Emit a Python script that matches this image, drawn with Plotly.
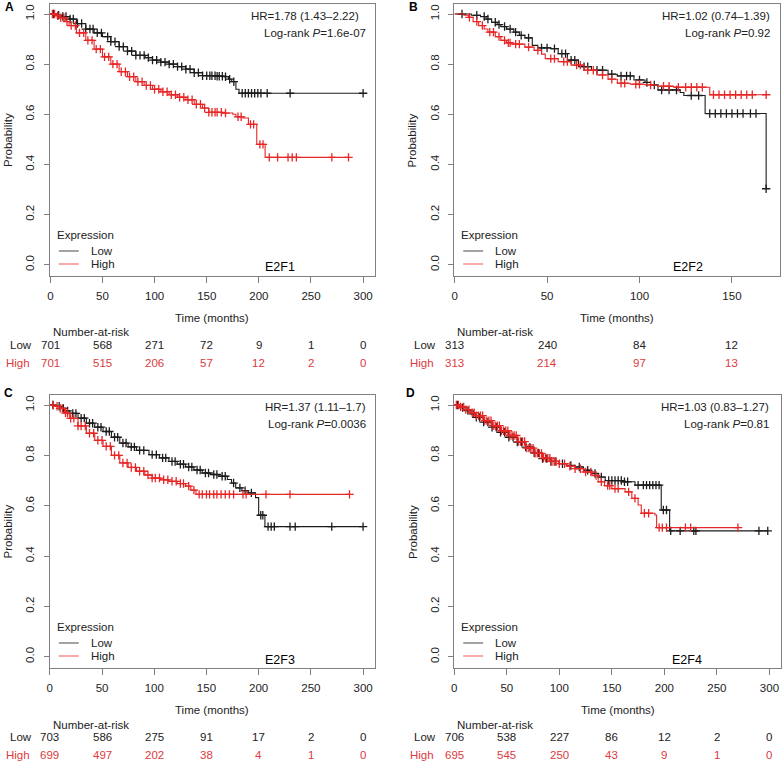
import numpy as np
import plotly.graph_objects as go

W, H = 782, 761
FONT = "Liberation Sans, Arial, sans-serif"
BLACK = "#1c1c1c"
RED = "#e82626"
RED_TXT = "#dc3a3e"
BOX = "#808080"
TXT = "#222222"
FS = 11.5

# ---- A: E2F1
a_low_t = [0, 6, 12, 18, 25, 34, 42, 50, 58, 66, 74, 82, 91, 98, 106, 114, 122, 130, 138, 146, 160, 167, 171, 174, 178, 181, 300]
a_low_s = [1.0, 0.995, 0.99, 0.98, 0.962, 0.94, 0.925, 0.91, 0.89, 0.87, 0.852, 0.835, 0.826, 0.816, 0.808, 0.80, 0.79, 0.78, 0.766, 0.754, 0.752, 0.75, 0.74, 0.73, 0.70, 0.684, 0.684]
a_low_cens = [3, 8, 12, 15, 19, 22, 26, 30, 34, 38, 41, 45, 49, 55, 58, 62, 66, 70, 74, 78, 82, 86, 90, 94, 98, 102, 106, 110,
              114, 118, 122, 126, 130, 134, 138, 142, 146, 150, 153, 155, 158, 160, 162, 165, 168, 172, 176, 184, 187, 190,
              193, 196, 199, 202, 208, 230, 300]
a_high_t = [0, 5, 9, 14, 18, 25, 34, 42, 50, 58, 66, 74, 82, 90, 98, 106, 114, 122, 130, 138, 146, 152, 165, 175, 178, 185, 190, 198, 206, 286]
a_high_s = [1.0, 0.993, 0.985, 0.97, 0.954, 0.925, 0.895, 0.86, 0.829, 0.80, 0.77, 0.75, 0.73, 0.715, 0.70, 0.69, 0.678, 0.668, 0.658, 0.64,
            0.625, 0.608, 0.605, 0.60, 0.59, 0.585, 0.56, 0.48, 0.428, 0.428]
a_high_cens = [2, 4, 7, 10, 13, 16, 20, 24, 28, 32, 36, 40, 44, 48, 52, 56, 60, 64, 68, 72, 76, 80, 84, 88, 92, 96, 100, 104,
               108, 112, 116, 120, 124, 128, 132, 136, 140, 144, 148, 152, 155, 158, 160, 164, 168, 180, 183, 192, 195, 201,
               204, 210, 218, 228, 232, 236, 270, 286]
a_risk_low = [701, 568, 271, 72, 9, 1, 0]
a_risk_high = [701, 515, 206, 57, 12, 2, 0]

# ---- B: E2F2
b_low_t = [0, 9, 14, 17, 20, 23, 25, 28, 32, 35, 38, 42, 45, 52, 56, 61, 67, 74, 83, 88, 97, 103, 106, 110, 122, 124, 135.5, 168.5]
b_low_s = [1.0, 0.995, 0.99, 0.98, 0.967, 0.958, 0.95, 0.94, 0.928, 0.915, 0.905, 0.875, 0.865, 0.862, 0.842, 0.816, 0.79, 0.776,
           0.76, 0.753, 0.737, 0.727, 0.717, 0.697, 0.687, 0.675, 0.603, 0.303]
b_low_cens = [4, 12, 16, 18, 22, 24, 27, 30, 33, 36, 40, 47, 50, 54, 58, 60, 63, 65, 70, 72, 77, 80, 85, 90, 93, 95, 100, 104,
              108, 112, 116, 120, 128, 132, 138, 141, 144, 147, 150, 153, 156, 160, 163, 168.5]
b_high_t = [0, 5, 7.5, 10, 13, 16, 18, 22, 25, 28, 31, 38, 43, 47, 49, 56, 63, 70, 77, 83, 88, 95, 103, 110, 118.5, 138, 168.5]
b_high_s = [1.0, 0.995, 0.987, 0.97, 0.954, 0.94, 0.928, 0.91, 0.895, 0.885, 0.88, 0.868, 0.855, 0.84, 0.822, 0.81, 0.796, 0.776,
            0.757, 0.74, 0.724, 0.72, 0.717, 0.712, 0.708, 0.678, 0.678]
b_high_cens = [8, 12, 15, 19, 21, 24, 27, 29, 30, 33, 35, 40, 45, 52, 54, 59, 61, 66, 68, 72, 75, 80, 85, 90, 92, 98, 100, 106,
               113, 116, 121, 125, 128, 131, 134, 140, 143, 146, 149, 152, 155, 158, 161, 168.5]
b_risk_low = [313, 240, 84, 12]
b_risk_high = [313, 214, 97, 13]

# ---- C: E2F3
c_low_t = [0, 6, 11, 15, 19, 27, 35, 43, 51, 59, 67, 75, 83, 95, 105, 114, 122, 130, 138, 146, 154, 162, 170, 174, 178, 184, 190, 197, 200, 206, 300]
c_low_s = [1.0, 0.995, 0.987, 0.977, 0.967, 0.948, 0.928, 0.912, 0.895, 0.872, 0.849, 0.834, 0.82, 0.803, 0.79, 0.776, 0.765, 0.754,
           0.742, 0.73, 0.724, 0.717, 0.704, 0.69, 0.671, 0.66, 0.651, 0.632, 0.562, 0.517, 0.517]
c_low_cens = [3, 9, 13, 17, 22, 25, 30, 33, 38, 41, 46, 49, 54, 57, 62, 65, 70, 73, 78, 81, 86, 90, 98, 102, 108, 111, 117, 120,
              125, 128, 133, 136, 141, 144, 149, 152, 157, 160, 165, 168, 176, 182, 187, 193, 202, 204, 209, 212, 215, 230, 235, 270, 300]
c_high_t = [0, 5, 9.5, 14, 19, 27, 35, 43, 51, 59, 67, 75, 83, 91, 98, 106, 114, 122, 130, 135, 140, 287]
c_high_s = [1.0, 0.995, 0.987, 0.968, 0.947, 0.917, 0.888, 0.86, 0.836, 0.80, 0.77, 0.752, 0.737, 0.722, 0.71, 0.703, 0.697, 0.688,
            0.678, 0.662, 0.645, 0.645]
c_high_cens = [3, 7, 10, 12, 15, 17, 20, 23, 27, 30, 34, 38, 42, 46, 50, 54, 58, 62, 66, 70, 74, 78, 82, 86, 90, 94, 98, 101,
               105, 109, 113, 117, 121, 125, 128, 133, 138, 143, 146, 150, 153, 157, 160, 164, 168, 172, 176, 185, 188, 207,
               230, 287]
c_risk_low = [703, 586, 275, 91, 17, 2, 0]
c_risk_high = [699, 497, 202, 38, 4, 1, 0]

# ---- D: E2F4
d_low_t = [0, 5, 11, 16, 20.5, 28, 36, 44, 52, 60, 68, 76, 84, 92, 99.5, 107, 115, 123, 131, 137, 143.7, 160, 172, 197, 205, 298.4]
d_low_s = [1.0, 0.99, 0.978, 0.965, 0.951, 0.932, 0.912, 0.892, 0.872, 0.853, 0.833, 0.81, 0.787, 0.776, 0.767, 0.76, 0.754, 0.741,
           0.728, 0.714, 0.70, 0.695, 0.682, 0.583, 0.50, 0.50]
d_low_cens = [3, 8, 13, 18, 21, 24, 28, 32, 36, 40, 44, 48, 52, 56, 60, 64, 68, 72, 76, 80, 84, 88, 92, 96, 103, 111, 119, 127,
              134, 140, 147, 150, 153, 156, 159, 162, 165, 175, 180, 183, 186, 189, 192, 195, 199, 202, 206, 215, 228, 230,
              290, 298.4]
d_high_t = [0, 5, 11, 16, 20.5, 28, 36, 44, 52, 60, 68, 76, 84, 92, 99.5, 107, 115, 123, 131, 137, 143, 150, 162.6, 169, 175, 178,
            191, 192.6, 270]
d_high_s = [1.0, 0.993, 0.982, 0.97, 0.958, 0.938, 0.918, 0.898, 0.879, 0.855, 0.829, 0.808, 0.789, 0.776, 0.767, 0.757, 0.747,
            0.734, 0.72, 0.695, 0.68, 0.668, 0.655, 0.629, 0.603, 0.57, 0.563, 0.513, 0.513]
d_high_cens = [2, 4, 6, 9, 11, 14, 17, 19, 21, 23, 25, 27, 29, 31, 33, 35, 37, 39, 41, 43, 45, 47, 49, 51, 53, 55, 57, 59, 61,
               63, 65, 67, 69, 71, 73, 75, 77, 79, 81, 83, 85, 87, 89, 91, 93, 95, 97, 100, 105, 110, 115, 120, 125, 130,
               135, 140, 146, 148, 153, 156, 166, 172, 181, 185, 195, 198, 202, 220, 225, 270]
d_risk_low = [706, 538, 227, 86, 12, 2, 0]
d_risk_high = [695, 545, 250, 43, 9, 1, 0]

ticks_300 = [0, 50, 100, 150, 200, 250, 300]
ticks_150 = [0, 50, 100, 150]
y_ticks = [0.0, 0.2, 0.4, 0.6, 0.8, 1.0]
y_ticktext = ["0.0", "0.2", "0.4", "0.6", "0.8", "1.0"]

panels = [
    dict(letter="A", gene="E2F1", hr="HR=1.78 (1.43–2.22)", p="1.6e-07", box=(47, 4, 373, 276), xr=[-0.5, 311],
         ticks=ticks_300, low=(a_low_t, a_low_s, a_low_cens), high=(a_high_t, a_high_s, a_high_cens),
         rl=a_risk_low, rh=a_risk_high, hr_dx=(-14, -7), lxy=(7, 7), gene_x=278),
    dict(letter="B", gene="E2F2", hr="HR=1.02 (0.74–1.39)", p="0.92", box=(453, 4, 780, 276), xr=[-0.2, 176],
         ticks=ticks_150, low=(b_low_t, b_low_s, b_low_cens), high=(b_high_t, b_high_s, b_high_cens),
         rl=b_risk_low, rh=b_risk_high, hr_dx=(-8, -8), lxy=(412, 7), gene_x=688),
    dict(letter="C", gene="E2F3", hr="HR=1.37 (1.11–1.7)", p="0.0036", box=(47, 395, 373, 668), xr=[0, 311],
         ticks=ticks_300, low=(c_low_t, c_low_s, c_low_cens), high=(c_high_t, c_high_s, c_high_cens),
         rl=c_risk_low, rh=c_risk_high, hr_dx=(-7, -7), lxy=(6, 393), gene_x=278),
    dict(letter="D", gene="E2F4", hr="HR=1.03 (0.83–1.27)", p="0.81", box=(453, 395, 781, 668), xr=[0, 311],
         ticks=ticks_300, low=(d_low_t, d_low_s, d_low_cens), high=(d_high_t, d_high_s, d_high_cens),
         rl=d_risk_low, rh=d_risk_high, hr_dx=(-10, -10), lxy=(409, 393), gene_x=687),
]


def px(x):
    return x / W


def py(y):
    return 1 - y / H


def surv_at(t, s, times):
    t = np.asarray(t, dtype=float)
    s = np.asarray(s, dtype=float)
    idx = np.searchsorted(t, np.asarray(times, dtype=float), side="right") - 1
    return s[np.clip(idx, 0, len(s) - 1)]


fig = go.Figure()
annotations = []
shapes = []
layout = {}

for i, p in enumerate(panels, start=1):
    sfx = "" if i == 1 else str(i)
    xa, ya = "x" + sfx, "y" + sfx
    L, T, R, B = p["box"]

    for (t, s, c), col in ((p["low"], BLACK), (p["high"], RED)):
        fig.add_trace(go.Scatter(x=t, y=s, mode="lines", line=dict(color=col, width=1.1, shape="hv"),
                                 xaxis=xa, yaxis=ya, showlegend=False, hoverinfo="skip"))
        fig.add_trace(go.Scatter(x=c, y=surv_at(t, s, c), mode="markers",
                                 marker=dict(symbol="cross-thin", size=6, line=dict(color=col, width=1.3)),
                                 xaxis=xa, yaxis=ya, showlegend=False, hoverinfo="skip"))

    layout["xaxis" + sfx] = dict(domain=[px(L), px(R)], anchor=ya, range=p["xr"], tickvals=p["ticks"],
                                 ticks="outside", ticklen=6, tickcolor=BOX, showline=True, linecolor=BOX,
                                 linewidth=1.2, mirror=True, showgrid=False, zeroline=False,
                                 tickfont=dict(size=FS, color=TXT), ticklabelstandoff=3)
    layout["yaxis" + sfx] = dict(domain=[py(B), py(T)], anchor=xa, range=[-0.045, 1.04], tickvals=y_ticks,
                                 ticktext=y_ticktext, tickangle=-90, ticks="outside", ticklen=5, tickcolor=BOX,
                                 showline=True, linecolor=BOX, linewidth=1.2, mirror=True, showgrid=False,
                                 zeroline=False, tickfont=dict(size=FS, color=TXT), ticklabelstandoff=5)

    def txt(x, y, text, xanchor="center", size=FS, color=TXT, xref="paper", **kw):
        annotations.append(dict(x=x, y=py(y), xref=xref, yref="paper", text=text, showarrow=False,
                                xanchor=xanchor, yanchor="middle", font=dict(size=size, color=color, family=FONT), **kw))

    # panel letter
    txt(px(p["lxy"][0]), p["lxy"][1], "<b>%s</b>" % p["letter"], size=12, color="#000")
    # HR / log-rank
    txt(px(R + p["hr_dx"][0]), T + 12, p["hr"], xanchor="right")
    txt(px(R + p["hr_dx"][1]), T + 29, "Log-rank <i>P</i>=" + p["p"], xanchor="right")
    # axis titles
    txt(px(L - 42), (T + B) / 2, "Probability", textangle=-90)
    txt(px((L + R) / 2), B + 42, "Time (months)")
    # gene label
    txt(px(p["gene_x"]), B - 8.5, p["gene"], size=12.5, color="#000")
    # legend
    txt(px(L + 5), B - 41, "Expression", xanchor="left")
    txt(px(L + 39), B - 25, "Low", xanchor="left")
    txt(px(L + 39), B - 12, "High", xanchor="left")
    shapes.append(dict(type="line", xref="paper", yref="paper", x0=px(L + 9), x1=px(L + 29), y0=py(B - 25),
                       y1=py(B - 25), line=dict(color="#666666", width=1.2)))
    shapes.append(dict(type="line", xref="paper", yref="paper", x0=px(L + 9), x1=px(L + 29), y0=py(B - 12),
                       y1=py(B - 12), line=dict(color="#f07070", width=1.2)))
    # number at risk table
    txt(px(L + 1), B + 56.5, "Number-at-risk", xanchor="left")
    txt(px(L - 16), B + 69, "Low", xanchor="right")
    txt(px(L - 18), B + 86.5, "High", xanchor="right", color=RED_TXT)
    for tk, vl, vh in zip(p["ticks"], p["rl"], p["rh"]):
        txt(tk, B + 69, str(vl), xref=xa)
        txt(tk, B + 86.5, str(vh), xref=xa, color=RED_TXT)

fig.update_layout(width=W, height=H, margin=dict(l=0, r=0, t=0, b=0), paper_bgcolor="white",
                  plot_bgcolor="white", font=dict(family=FONT, size=FS, color=TXT),
                  annotations=annotations, shapes=shapes, showlegend=False, **layout)

fig.write_html("out.html", config={"displayModeBar": False},
               post_script="document.body.style.margin='0';document.body.style.overflow='hidden';")
